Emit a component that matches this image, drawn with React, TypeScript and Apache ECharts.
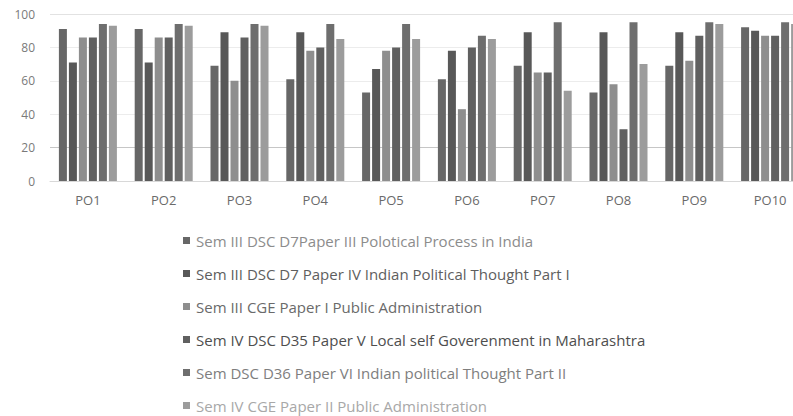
import React, { useEffect, useRef } from "react";
import * as echarts from "echarts";

const categories = ["PO1", "PO2", "PO3", "PO4", "PO5", "PO6", "PO7", "PO8", "PO9", "PO10"];
const seriesNames = [
  "Sem III DSC D7Paper III Polotical Process in India",
  "Sem III DSC D7 Paper IV Indian Political Thought Part I",
  "Sem III CGE Paper I Public Administration",
  "Sem IV DSC D35 Paper V Local self Goverenment in Maharashtra",
  "Sem DSC D36 Paper VI Indian political Thought Part II",
  "Sem IV CGE Paper II Public Administration",
];
const s1 = [91, 91, 69, 61, 53, 61, 69, 53, 69, 92];
const s2 = [71, 71, 89, 89, 67, 78, 89, 89, 89, 90];
const s3 = [86, 86, 60, 78, 78, 43, 65, 58, 72, 87];
const s4 = [86, 86, 86, 80, 80, 80, 65, 31, 87, 87];
const s5 = [94, 94, 94, 94, 94, 87, 95, 95, 95, 95];
const s6 = [93, 93, 93, 85, 85, 85, 54, 70, 94, 94];
const seriesData = [s1, s2, s3, s4, s5, s6];
const colors = ["#676767", "#585858", "#8e8e8e", "#606060", "#6e6e6e", "#9c9c9c"];
const legendTextColors = ["#8c8c8c", "#5e5e5e", "#6a6a6a", "#4e4e4e", "#7e7e7e", "#a8a8a8"];

export default function App() {
  const ref = useRef<HTMLDivElement>(null);
  useEffect(() => {
    if (!ref.current) return;
    const chart = echarts.init(ref.current, null, { renderer: "svg" });
    chart.setOption({
      animation: false,
      backgroundColor: "#ffffff",
      grid: { left: 50, width: 758, top: 14, height: 167, outerBoundsMode: "none", containLabel: false },
      xAxis: {
        type: "category",
        data: categories,
        axisLine: { show: true, lineStyle: { color: "#d8d8d8" } },
        axisTick: { show: false },
        axisLabel: { color: "#6a6a6a", fontSize: 13, margin: 12, fontFamily: "Open Sans" },
      },
      yAxis: {
        type: "value",
        min: 0,
        max: 100,
        interval: 20,
        axisLine: { show: false },
        axisTick: { show: false },
        axisLabel: { color: "#7a7a7a", fontSize: 12, margin: 15, fontFamily: "Open Sans" },
        splitLine: { lineStyle: { color: ["#dadada", "#c6c6c6", "#ececec", "#ececec", "#ececec", "#e2e2e2"] } },
      },
      legend: {
        orient: "vertical",
        left: 183,
        top: 233,
        padding: 0,
        itemGap: 18,
        itemWidth: 7,
        itemHeight: 7,
        icon: "rect",
        textStyle: { fontSize: 15, fontFamily: "Open Sans", padding: [0, 0, 0, 1] },
        data: seriesNames.map((n, i) => ({ name: n, textStyle: { color: legendTextColors[i] } })),
      },
      series: seriesData.map((d, i) => ({
        name: seriesNames[i],
        type: "bar",
        data: d,
        barWidth: 8,
        barGap: "25%",
        itemStyle: { color: colors[i] },
      })),
    });
    return () => chart.dispose();
  }, []);
  return <div ref={ref} style={{ width: 793, height: 416, position: "absolute", left: 0, top: 0 }} />;
}
